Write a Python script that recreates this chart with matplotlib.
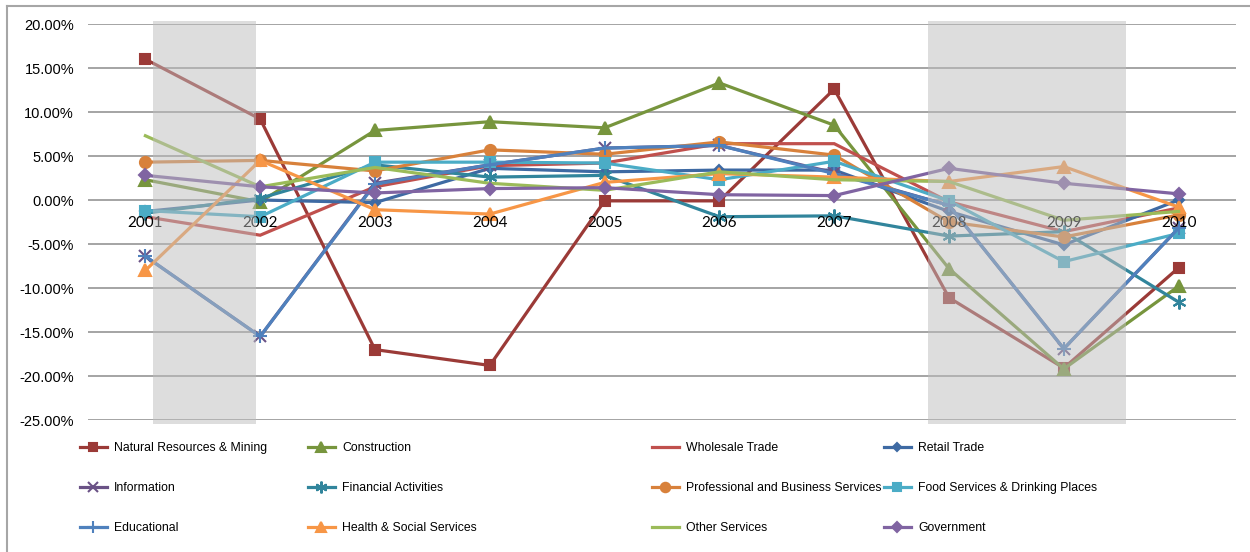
import matplotlib.pyplot as plt
from matplotlib.lines import Line2D

# year-over-year employment change by sector (%)
years = ['2001', '2002', '2003', '2004', '2005', '2006', '2007', '2008', '2009', '2010']

nat_res = [16.0, 9.2, -17.0, -18.8, -0.1, -0.1, 12.6, -11.1, -19.1, -7.7]
construction = [2.3, -0.2, 7.9, 8.9, 8.2, 13.3, 8.5, -7.8, -19.2, -9.8]
wholesale = [-1.9, -4.0, 1.5, 3.9, 4.2, 6.4, 6.4, -0.2, -3.6, -0.9]
retail = [-1.3, 0.0, -0.3, 3.6, 3.2, 3.4, 3.4, -1.3, -5.1, 0.0]
information = [-6.4, -15.5, 1.9, 4.0, 5.9, 6.2, 3.1, -0.6, -16.9, -3.2]
financial = [-1.5, 0.2, 4.0, 2.6, 2.8, -1.9, -1.8, -4.1, -3.6, -11.6]
professional = [4.3, 4.5, 3.3, 5.7, 5.2, 6.6, 5.1, -2.5, -4.2, -1.7]
food = [-1.2, -1.9, 4.3, 4.3, 4.2, 2.3, 4.4, -0.1, -7.0, -3.8]
educational = [-6.4, -15.5, 1.8, 4.0, 5.9, 6.2, 3.0, -0.6, -16.9, -3.2]
health = [-8.0, 4.5, -1.1, -1.6, 2.0, 3.0, 2.6, 2.1, 3.8, -0.8]
other = [7.3, 1.5, 3.7, 1.9, 1.1, 3.2, 2.3, 2.1, -2.3, -1.3]
government = [2.8, 1.5, 0.8, 1.3, 1.4, 0.6, 0.5, 3.6, 1.9, 0.7]

# recession periods (shaded), in category positions
recessions = [(1.066, 1.963), (7.82, 9.54)]

series = [
    ('Natural Resources & Mining', nat_res, '#9B3A37', 's', 7),
    ('Construction', construction, '#77953D', '^', 8),
    ('Wholesale Trade', wholesale, '#C0504D', None, 0),
    ('Retail Trade', retail, '#3E6AA3', 'D', 5),
    ('Information', information, '#6A5286', 'x', 8),
    ('Financial Activities', financial, '#31859C', (6, 2, 0), 10),
    ('Professional and Business Services', professional, '#D8813B', 'o', 8),
    ('Food Services & Drinking Places', food, '#4BACC6', 's', 7),
    ('Educational', educational, '#4F81BD', '+', 10),
    ('Health & Social Services', health, '#F79646', '^', 8),
    ('Other Services', other, '#9BBB59', None, 0),
    ('Government', government, '#8064A2', 'D', 6),
]

fig = plt.figure(figsize=(12.5, 5.52), dpi=100)
ax = fig.add_axes([88 / 1250, 1 - 420 / 552, 1148 / 1250, 396 / 552])

x = list(range(1, len(years) + 1))
handles = []
for i, (name, vals, col, mk, ms) in enumerate(series):
    ln, = ax.plot(x, vals, color=col, lw=2.3, marker=mk, markersize=ms,
                  markerfacecolor=col, markeredgecolor=col, markeredgewidth=1.5,
                  label=name, zorder=3 + i * 0.01, solid_joinstyle='miter')
    handles.append(ln)

# gray bars go over the lines, like the original
for a, b in recessions:
    ax.axvspan(a, b, ymin=-0.01, ymax=1.008, color='#BDBDBD', alpha=0.5,
               lw=0, zorder=5, clip_on=False)

ax.set_xlim(0.5, len(years) + 0.5)
ax.set_ylim(-25, 20)
ax.set_yticks(range(-25, 21, 5))
ax.set_yticklabels([f'{v:.2f}%' for v in range(-25, 21, 5)],
                   fontsize=10.5, family='Liberation Sans')
ax.tick_params(axis='y', length=0, pad=10)
ax.set_xticks([])
ax.grid(axis='y', color='#8C8C8C', lw=1.1, zorder=1)
ax.set_axisbelow(True)
for s in ax.spines.values():
    s.set_visible(False)

# category labels sit next to the 0% line
for xi, yr in zip(x, years):
    ax.annotate(yr, (xi, 0), xytext=(0, -16.5), textcoords='offset points',
                ha='center', va='center', fontsize=11, family='Lato', zorder=4)

# legend: 4 columns, 3 rows, filled row by row
col_x = [80, 308, 652, 884]
for c in range(4):
    hs = [handles[r * 4 + c] for r in range(3)]
    fig.legend(hs, [h.get_label() for h in hs], loc='upper left',
               bbox_to_anchor=(col_x[c] / 1250, 1 - 442 / 552),
               frameon=False, borderpad=0, borderaxespad=0, numpoints=1,
               handlelength=2.2, handletextpad=0.6, labelspacing=2.3,
               markerscale=0.85,
               prop={'family': 'Liberation Sans', 'size': 8.8})

# outer chart frame (top and left edges visible)
fig.add_artist(Line2D([7 / 1250, 1], [1 - 5.5 / 552, 1 - 5.5 / 552], color='#A6A6A6', lw=1.5))
fig.add_artist(Line2D([7 / 1250, 7 / 1250], [0, 1 - 5.5 / 552], color='#A6A6A6', lw=1.5))

plt.savefig('out.png', dpi=100)
